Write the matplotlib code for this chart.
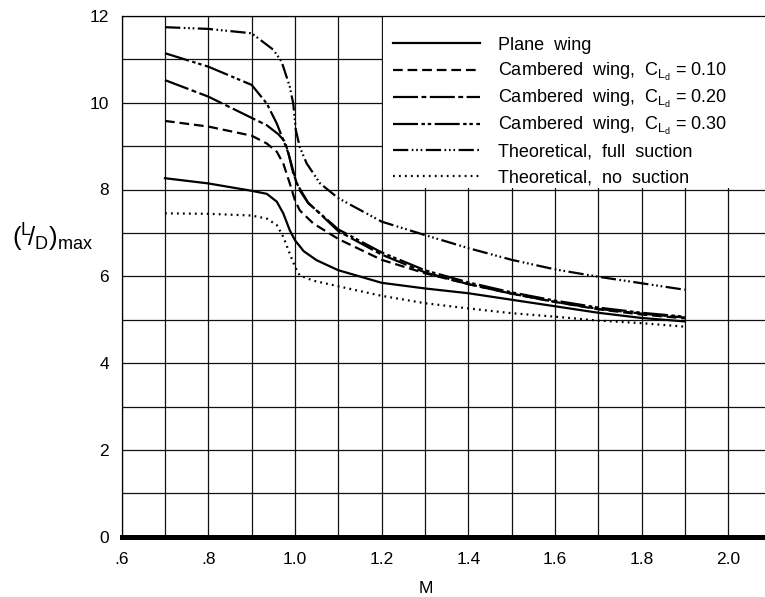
import matplotlib
matplotlib.use("Agg")
import matplotlib.pyplot as plt
from matplotlib.patches import Rectangle
from matplotlib.ticker import MultipleLocator, FixedLocator

plt.rcParams['font.family'] = ['Liberation Sans', 'DejaVu Sans']
plt.rcParams['lines.scale_dashes'] = False

# ---- data ----
m_plane = [0.7, 0.8, 0.9, 0.935, 0.958, 0.973, 0.988, 1.0, 1.02, 1.05, 1.1, 1.2, 1.3, 1.4, 1.5, 1.6, 1.7, 1.8, 1.9]
ld_plane = [8.26, 8.14, 7.97, 7.9, 7.72, 7.45, 7.06, 6.83, 6.58, 6.37, 6.14, 5.85, 5.72, 5.61, 5.46, 5.31, 5.16, 5.04, 4.96]

m_c10 = [0.7, 0.8, 0.9, 0.935, 0.958, 0.973, 0.988, 1.0, 1.011, 1.042, 1.1, 1.2, 1.3, 1.4, 1.5, 1.6, 1.7, 1.8, 1.9]
ld_c10 = [9.58, 9.45, 9.24, 9.06, 8.87, 8.6, 8.14, 7.75, 7.52, 7.22, 6.86, 6.38, 6.07, 5.82, 5.6, 5.41, 5.24, 5.12, 5.03]

m_c20 = [0.7, 0.8, 0.9, 0.935, 0.962, 0.977, 0.988, 1.004, 1.03, 1.06, 1.1, 1.2, 1.3, 1.4, 1.5, 1.6, 1.7, 1.8, 1.9]
ld_c20 = [10.52, 10.14, 9.65, 9.48, 9.27, 9.1, 8.72, 8.14, 7.7, 7.42, 7.04, 6.5, 6.09, 5.82, 5.6, 5.41, 5.25, 5.14, 5.05]

m_c30 = [0.7, 0.8, 0.9, 0.935, 0.958, 0.973, 0.985, 0.996, 1.011, 1.031, 1.058, 1.1, 1.2, 1.3, 1.4, 1.5, 1.6, 1.7, 1.8, 1.9]
ld_c30 = [11.14, 10.83, 10.41, 9.98, 9.52, 9.14, 8.83, 8.37, 7.98, 7.68, 7.45, 7.08, 6.55, 6.14, 5.86, 5.63, 5.44, 5.28, 5.16, 5.07]

m_full = [0.7, 0.8, 0.9, 0.95, 0.969, 0.988, 0.996, 1.002, 1.011, 1.027, 1.058, 1.1, 1.2, 1.3, 1.4, 1.5, 1.6, 1.7, 1.8, 1.9]
ld_full = [11.74, 11.7, 11.6, 11.22, 10.95, 10.37, 9.98, 9.37, 8.98, 8.6, 8.14, 7.8, 7.26, 6.95, 6.65, 6.38, 6.16, 5.99, 5.84, 5.69]

m_none = [0.7, 0.8, 0.9, 0.935, 0.958, 0.973, 0.988, 1.0, 1.011, 1.042, 1.1, 1.2, 1.3, 1.4, 1.5, 1.6, 1.7, 1.8, 1.9]
ld_none = [7.45, 7.44, 7.4, 7.33, 7.18, 6.91, 6.52, 6.22, 6.02, 5.9, 5.77, 5.55, 5.38, 5.26, 5.15, 5.07, 4.98, 4.92, 4.84]

labels = [
    'Plane  wing',
    r'Cambered  wing,  $\mathregular{C_{L_d}}$ = 0.10',
    r'Cambered  wing,  $\mathregular{C_{L_d}}$ = 0.20',
    r'Cambered  wing,  $\mathregular{C_{L_d}}$ = 0.30',
    'Theoretical,  full  suction',
    'Theoretical,  no  suction',
]

x_ticks = [0.6, 0.8, 1.0, 1.2, 1.4, 1.6, 1.8, 2.0]
x_ticklabels = ['.6', '.8', '1.0', '1.2', '1.4', '1.6', '1.8', '2.0']
y_ticks = [0, 2, 4, 6, 8, 10, 12]

# ---- figure ----
fig = plt.figure(figsize=(7.65, 5.97), dpi=100)
ax = fig.add_axes([121.7 / 765, 60.3 / 597, (765 - 121.7) / 765, 520.8 / 597])
ax.set_xlim(0.6, 2.085)
ax.set_ylim(0, 12)
ax.set_axisbelow(True)

ax.xaxis.set_major_locator(FixedLocator(x_ticks))
ax.set_xticklabels(x_ticklabels)
ax.xaxis.set_minor_locator(MultipleLocator(0.1))
ax.yaxis.set_major_locator(FixedLocator(y_ticks))
ax.yaxis.set_minor_locator(MultipleLocator(1))
ax.grid(True, which='both', color='#111111', linewidth=0.9)
ax.tick_params(which='both', length=0)
ax.tick_params(axis='x', pad=11, labelsize=12.5)
ax.tick_params(axis='y', pad=9, labelsize=12.5)

ax.spines['right'].set_visible(False)
ax.spines['left'].set_linewidth(0.9)
ax.spines['top'].set_linewidth(0.9)
ax.spines['bottom'].set_linewidth(3.6)

# white area behind the legend (hides grid there)
ax.add_patch(Rectangle((1.203, 8.03), 1.0, 3.94, facecolor='white', edgecolor='none', zorder=1))

lw = 1.6
ax.plot(m_plane, ld_plane, color='black', lw=lw, linestyle='-', label=labels[0], zorder=3)
ax.plot(m_c10, ld_c10, color='black', lw=lw, linestyle=(0, (7, 3.5)), label=labels[1], zorder=3)
ax.plot(m_c20, ld_c20, color='black', lw=lw, linestyle=(0, (18, 2.5, 3.5, 2.5)), label=labels[2], zorder=3)
ax.plot(m_c30, ld_c30, color='black', lw=lw, linestyle=(0, (18, 2.5, 2.5, 2, 2.5, 2.5)), label=labels[3], zorder=3)
ax.plot(m_full, ld_full, color='black', lw=lw, linestyle=(0, (11, 2.5, 1.2, 2, 1.2, 2, 1.2, 2.5)), label=labels[4], zorder=3)
ax.plot(m_none, ld_none, color='black', lw=lw, linestyle=(0, (1.3, 3)), label=labels[5], zorder=3)

leg = ax.legend(loc='upper left', bbox_to_anchor=(0.4217, 0.963), frameon=False,
                fontsize=13, handlelength=4.8, handletextpad=1.0,
                handleheight=1.4, labelspacing=0.27,
                borderpad=0, borderaxespad=0)
# centre each label on its line sample so all rows are evenly spaced
for col in leg._legend_handle_box.get_children():
    for row in col.get_children():
        row.align = 'center'

ax.set_xlabel('M', fontsize=12.5)
ax.xaxis.set_label_coords(0.473, -0.086)
fig.text(53 / 765, 1 - 238 / 597, r'$\mathregular{(^{L}\!/_{D})_{max}}$', fontsize=18.5,
         ha='center', va='center')

fig.savefig('out.png', dpi=100)
